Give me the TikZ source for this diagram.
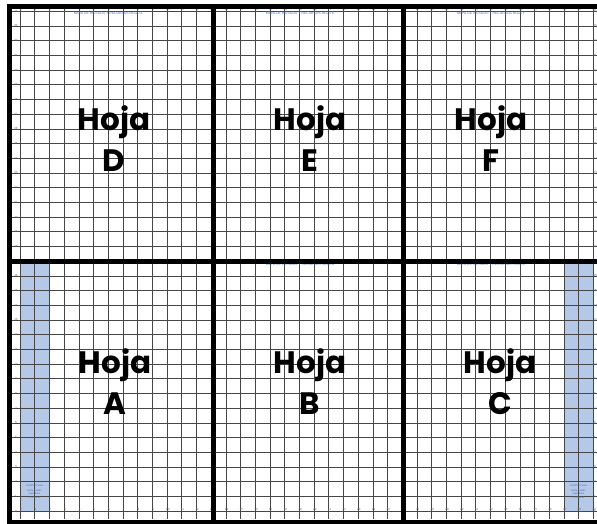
\documentclass[tikz,border=0pt]{standalone}
\usepackage{fontspec}
\setmainfont{Liberation Sans}
\newfontfamily\hojafont{Poppins}
\usetikzlibrary{positioning}
\definecolor{cStrip}{RGB}{182,200,232}
\definecolor{cHead}{RGB}{70,110,190}
\definecolor{cGrid}{RGB}{70,70,70}
\tikzset{
  gridline/.style={draw=cGrid,line width=0.6pt},
  hoja/.style={rectangle,draw=black,line width=5pt,inner sep=0pt,anchor=north west},
  hojalabel/.style={align=center,font=\hojafont\bfseries\fontsize{31}{41}\selectfont},
  ticklbl/.style={inner sep=0pt,font=\fontsize{3}{3}\selectfont,text=black!60},
  headlbl/.style={inner sep=0pt,font=\fontsize{3.4}{4}\selectfont,text=cHead},
  notelbl/.style={inner sep=0pt,align=center,font=\fontsize{2.6}{3.4}\selectfont,text=cHead}
}
\begin{document}
\begin{tikzpicture}[x=1pt,y=-1pt]
  \useasboundingbox (0,0) rectangle (597,523);
  \clip (0,0) rectangle (597,523);

  % Blue strips in sheets A and C
  \fill[cStrip] (20,261) rectangle (49,511);
  \fill[cStrip] (564,261) rectangle (593,511);

  % Grid
  \foreach \k in {0,...,39}
    \draw[gridline] ({20+14.7*\k},6) -- ({20+14.7*\k},519);
  \foreach \k in {0,...,34}
    \draw[gridline] (8,{511-14.7*\k}) -- (597,{511-14.7*\k});

  % Tick numbers
  \foreach \k in {0,...,39} {
    \node[ticklbl] (tt\k) at ({20.8+14.7*\k},9.5) {\k};
    \node[ticklbl] (tb\k) at ({20.8+14.7*\k},509) {\k};
  }
  \foreach \k in {0,...,34} {
    \node[ticklbl] (tl\k) at (16,{511-14.7*\k}) {\k};
    \node[ticklbl] (tr\k) at (595,{511-14.7*\k}) {\k};
  }

  % Headers
  \node[headlbl] (hdD) at (108,13)  {MAPA DE RIESGOS Y RECURSOS HOJA D};
  \node[headlbl] (hdE) at (300,13)  {MAPA DE RIESGOS Y RECURSOS HOJA E};
  \node[headlbl] (hdF) at (491,13)  {MAPA DE RIESGOS Y RECURSOS HOJA F};
  \node[headlbl] (hdB) at (300,264) {MAPA DE RIESGOS Y RECURSOS HOJA B};
  \node[headlbl] (hdC) at (491,264) {MAPA DE RIESGOS Y RECURSOS HOJA C};

  % Notes in the strips
  \node[notelbl] (ntA) at (34.5,491) {CUADR\'ICULA\\[2pt]Cada cuadro\\equivale a\\10 metros};
  \node[notelbl] (ntC) at (578.5,491) {CUADR\'ICULA\\[2pt]Cada cuadro\\equivale a\\10 metros};

  % Sheets
  \node[hoja,minimum width=203.8pt,minimum height=255pt] (hojaD) at (7,4)     {};
  \node[hoja,minimum width=190.2pt,minimum height=255pt] (hojaE) at (210.8,4) {};
  \node[hoja,minimum width=204pt,minimum height=255pt]   (hojaF) at (401,4)   {};
  \node[hoja,minimum width=203.8pt,minimum height=261pt] (hojaA) at (7,259)     {};
  \node[hoja,minimum width=190.2pt,minimum height=261pt] (hojaB) at (210.8,259) {};
  \node[hoja,minimum width=204pt,minimum height=261pt]   (hojaC) at (401,259)   {};

  % Sheet names
  \node[hojalabel] (lblD) at (114,139) {Hoja\\D};
  \node[hojalabel] (lblE) at (310,139) {Hoja\\E};
  \node[hojalabel] (lblF) at (491,139) {Hoja\\F};
  \node[hojalabel] (lblA) at (115,382) {Hoja\\A};
  \node[hojalabel] (lblB) at (310,382) {Hoja\\B};
  \node[hojalabel] (lblC) at (500,382) {Hoja\\C};
\end{tikzpicture}
\end{document}
